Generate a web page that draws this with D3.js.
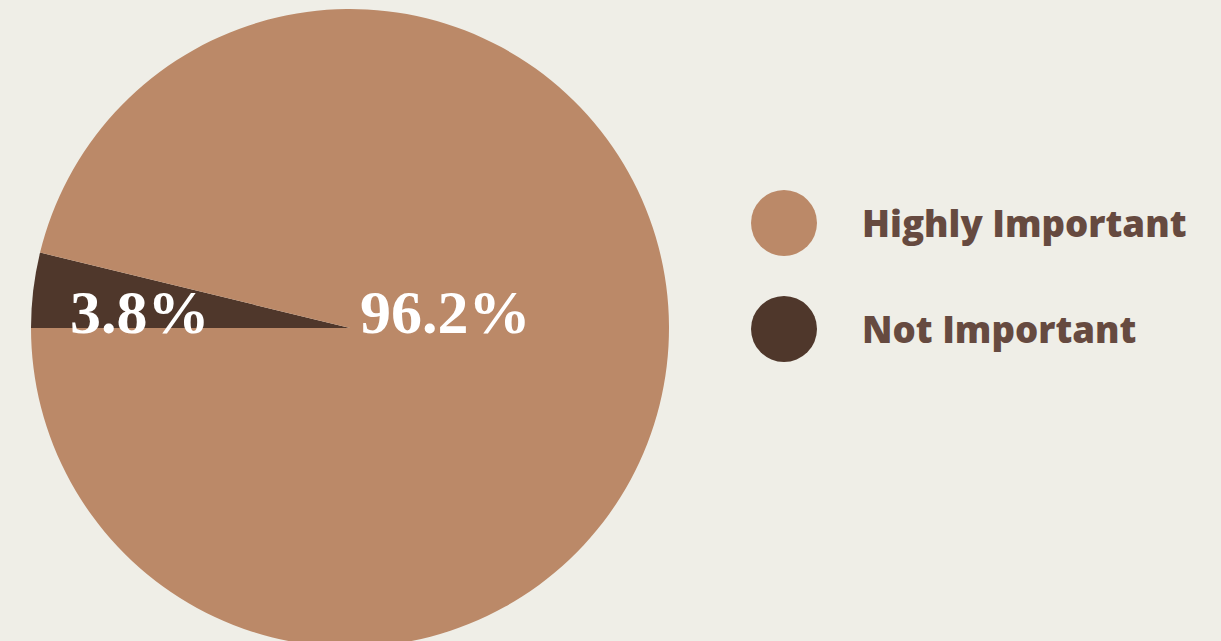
<!DOCTYPE html>
<html>
<head>
<meta charset="utf-8">
<script src="https://cdn.jsdelivr.net/npm/d3@7"></script>
<style>
  html, body { margin: 0; padding: 0; background: #efeee7; }
  svg { display: block; }
</style>
</head>
<body>
<svg id="chart" width="1221" height="641"></svg>
<script>
// Survey answers, in percent
const categories = ["Highly Important", "Not Important"];
const values = [96.2, 3.8];
const colors = ["#bb8968", "#4f372b"];

const svg = d3.select("#chart");
const W = 1221, H = 641;
svg.append("rect").attr("width", W).attr("height", H).attr("fill", "#efeee7");

const cx = 350, cy = 328, radius = 319;

const data = categories.map((c, i) => ({ name: c, value: values[i], color: colors[i] }));

// The small slice opens from the 9 o'clock position, sweeping clockwise
const pie = d3.pie()
  .value(d => d.value)
  .sort(null)
  .startAngle(-Math.PI / 2)
  .endAngle(3 * Math.PI / 2);

const arcs = pie([data[1], data[0]]);
const arc = d3.arc().innerRadius(0).outerRadius(radius);

const g = svg.append("g").attr("transform", `translate(${cx},${cy})`);

g.selectAll("path.slice")
  .data(arcs)
  .join("path")
  .attr("class", "slice")
  .attr("d", arc)
  .attr("fill", d => d.data.color);

// Value labels
const fmt = v => d3.format(".1f")(v) + "%";
const labelPos = {
  "Highly Important": { x: 10, y: 5 },
  "Not Important": { x: -280, y: 5 }
};
g.selectAll("text.value")
  .data(arcs)
  .join("text")
  .attr("class", "value")
  .attr("x", d => labelPos[d.data.name].x)
  .attr("y", d => labelPos[d.data.name].y)
  .attr("fill", "#ffffff")
  .attr("font-family", "'Liberation Serif', 'DejaVu Serif', serif")
  .attr("font-weight", "bold")
  .attr("font-size", 62)
  .text(d => fmt(d.data.value));

// Legend
const legend = svg.append("g").attr("transform", "translate(784,223)");
const rows = legend.selectAll("g.row")
  .data(data)
  .join("g")
  .attr("class", "row")
  .attr("transform", (d, i) => `translate(0,${i * 106})`);

rows.append("circle")
  .attr("r", 33)
  .attr("fill", d => d.color);

rows.append("text")
  .attr("x", 78)
  .attr("y", 14)
  .attr("fill", "#664a40")
  .attr("font-family", "'Open Sans', 'Noto Sans', sans-serif")
  .attr("font-weight", 800)
  .attr("font-size", 36.6)
  .text(d => d.name);
</script>
</body>
</html>
